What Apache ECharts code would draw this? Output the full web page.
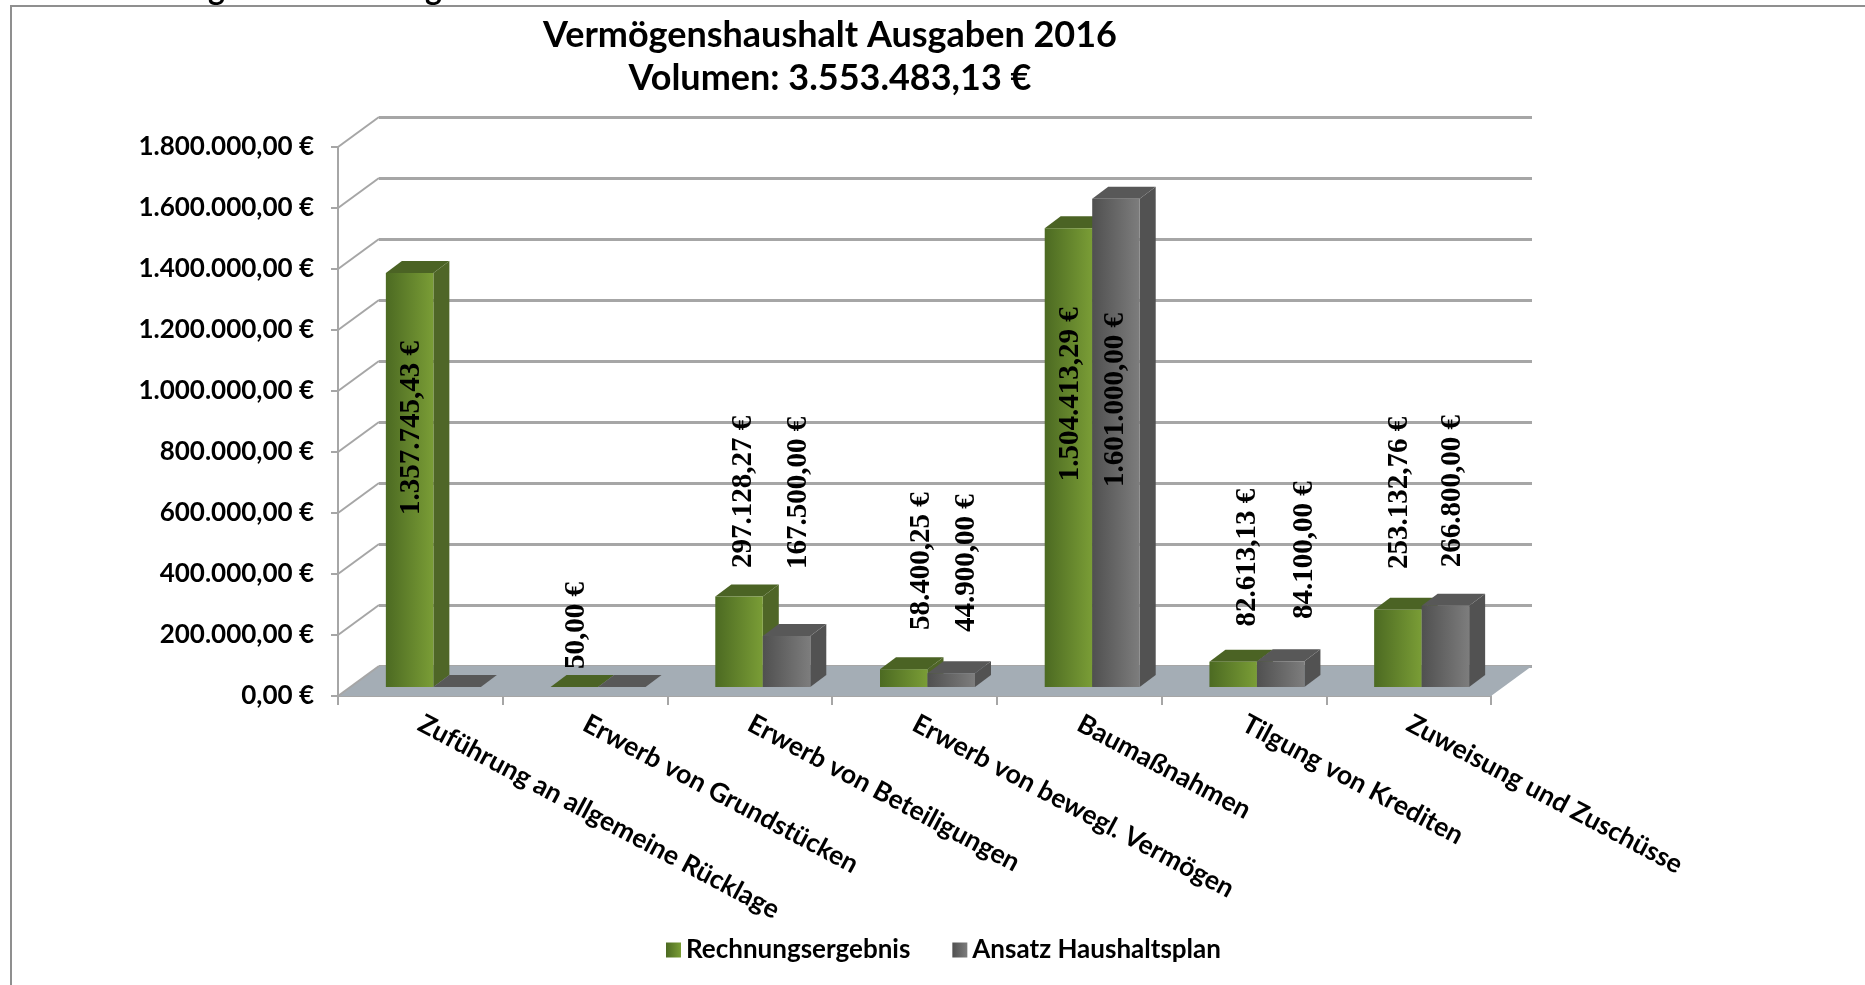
<!DOCTYPE html>
<html>
<head>
<meta charset="utf-8">
<title>Vermögenshaushalt Ausgaben 2016</title>
<script src="https://cdn.jsdelivr.net/npm/echarts@6/dist/echarts.min.js"></script>
<style>
  html, body { margin: 0; padding: 0; background: #fff; overflow: hidden; }
  #frame { position: absolute; left: 10px; top: 5px; width: 1855px; height: 980px; border-left: 2px solid #8f8f8f; border-top: 2px solid #8f8f8f; box-sizing: border-box; }
  #chart { position: absolute; left: 0; top: 0; width: 1865px; height: 985px; }
</style>
</head>
<body>
<div id="frame"></div>
<div id="chart"></div>
<script>
const categories = [
  'Zuführung an allgemeine Rücklage',
  'Erwerb von Grundstücken',
  'Erwerb von Beteiligungen',
  'Erwerb von bewegl. Vermögen',
  'Baumaßnahmen',
  'Tilgung von Krediten',
  'Zuweisung und Zuschüsse',
];
const rechnungsergebnis = [1357745.43, 50, 297128.27, 58400.25, 1504413.29, 82613.13, 253132.76];
const ansatz = [0, 0, 167500, 44900, 1601000, 84100, 266800];
const rechnungLabels = ['1.357.745,43 €', '50,00 €', '297.128,27 €', '58.400,25 €', '1.504.413,29 €', '82.613,13 €', '253.132,76 €'];
const ansatzLabels = ['', '', '167.500,00 €', '44.900,00 €', '1.601.000,00 €', '84.100,00 €', '266.800,00 €'];
// hand placed labels in the original: axis value where each label starts
const rechnungLabelAt = [564000, 59000, 390000, 187000, 675000, 198000, 387000];
const ansatzLabelAt = [0, 0, 387000, 180000, 656000, 223000, 393000];
const rechnungLabelNudge = [2, 2, 4, 18, 2, 14, 2];
const ansatzLabelNudge = [0, 0, 12, 15, 0, 24, 7];
const tickValues = [0, 200000, 400000, 600000, 800000, 1000000, 1200000, 1400000, 1600000, 1800000];

const GRID_LEFT = 338, GRID_TOP = 147, GRID_W = 1153, GRID_H = 549;
const WALL_DX = 41, WALL_DY = -30;
const BAR_W = 47.5, BAR_SHIFT = 13, BAR_LIFT = 9, SIDE_DX = 16, SIDE_DY = -12;
const LINE = '#a6a6a6';
const LABEL_FONT = 'bold 29px "Liberation Serif"';
const AXIS_FONT = 'Lato';

function hGrad(a, b) {
  return new echarts.graphic.LinearGradient(0, 0, 1, 0, [{ offset: 0, color: a }, { offset: 1, color: b }]);
}
const green = { front: hGrad('#4c6a22', '#7a9d36'), side: '#4f6627', top: '#4b6324' };
const gray = { front: hGrad('#505050', '#7d7d7d'), side: '#525252', top: '#585858' };

function barSeries(name, values, colors, barOffset) {
  return {
    name: name,
    type: 'custom',
    xAxisIndex: 0,
    yAxisIndex: 0,
    z: 5,
    itemStyle: { color: colors.front },
    data: values.map((v, i) => [i, v]),
    encode: { x: 0, y: 1 },
    renderItem: function (params, api) {
      const top = api.coord([api.value(0), api.value(1)]);
      const base = api.coord([api.value(0), 0]);
      const x0 = top[0] + BAR_SHIFT + barOffset;
      const x1 = x0 + BAR_W;
      const y0 = top[1] - BAR_LIFT;
      const y1 = base[1] - BAR_LIFT;
      return {
        type: 'group',
        children: [
          { type: 'polygon', shape: { points: [[x1, y0], [x1 + SIDE_DX, y0 + SIDE_DY], [x1 + SIDE_DX, y1 + SIDE_DY], [x1, y1]] }, style: { fill: colors.side } },
          { type: 'polygon', shape: { points: [[x0, y0], [x0 + SIDE_DX, y0 + SIDE_DY], [x1 + SIDE_DX, y0 + SIDE_DY], [x1, y0]] }, style: { fill: colors.top } },
          { type: 'rect', shape: { x: x0, y: y0, width: BAR_W, height: y1 - y0 }, style: { fill: colors.front } },
        ],
      };
    },
  };
}

function labelSeries(texts, anchors, nudges, barOffset) {
  return {
    type: 'custom',
    xAxisIndex: 0,
    yAxisIndex: 0,
    z: 10,
    silent: true,
    data: texts.map((t, i) => [i, anchors[i]]),
    encode: { x: 0, y: 1 },
    renderItem: function (params, api) {
      const i = params.dataIndex;
      const p = api.coord([api.value(0), api.value(1)]);
      return {
        type: 'text',
        x: p[0] + BAR_SHIFT + barOffset + BAR_W / 2 + nudges[i],
        y: p[1] - BAR_LIFT,
        rotation: Math.PI / 2,
        style: { text: texts[i], font: LABEL_FONT, fill: '#000', align: 'left', verticalAlign: 'middle' },
      };
    },
  };
}

const chart = echarts.init(document.getElementById('chart'), null, { renderer: 'canvas' });

chart.setOption({
  animation: false,
  backgroundColor: 'transparent',
  title: {
    text: 'Vermögenshaushalt Ausgaben 2016\nVolumen: 3.553.483,13 €',
    left: 825,
    top: 9,
    textAlign: 'center',
    textStyle: { fontFamily: AXIS_FONT, fontWeight: 'bold', fontSize: 36, lineHeight: 43, color: '#000' },
  },
  legend: {
    left: 661,
    top: 932,
    itemWidth: 15,
    itemHeight: 15,
    itemGap: 42,
    data: [
      { name: 'Rechnungsergebnis', icon: 'rect' },
      { name: 'Ansatz Haushaltsplan', icon: 'rect' },
    ],
    textStyle: { fontFamily: AXIS_FONT, fontWeight: 'bold', fontSize: 26, color: '#000' },
  },
  // tips of the cropped page heading above the frame
  graphic: [
    { type: 'text', left: 208, top: -26, silent: true, style: { text: 'g', font: 'bold 32px Lato', fill: '#000' } },
    { type: 'text', left: 425, top: -26, silent: true, style: { text: 'g', font: 'bold 32px Lato', fill: '#000' } },
  ],
  grid: [
    { left: GRID_LEFT, top: GRID_TOP, width: GRID_W, height: GRID_H },
    { left: GRID_LEFT + WALL_DX, top: GRID_TOP + WALL_DY, width: GRID_W, height: GRID_H },
  ],
  xAxis: [
    {
      type: 'category',
      gridIndex: 0,
      data: categories,
      axisLine: { lineStyle: { color: LINE, width: 2 } },
      axisTick: { show: true, length: 9, lineStyle: { color: LINE, width: 2 } },
      axisLabel: { interval: 0, rotate: -28, margin: 26, fontFamily: AXIS_FONT, fontWeight: 'bold', fontSize: 26.5, color: '#000' },
    },
    { type: 'category', gridIndex: 1, data: categories, show: false },
  ],
  yAxis: [
    {
      type: 'value',
      gridIndex: 0,
      min: 0,
      max: 1800000,
      interval: 200000,
      axisLine: { show: true, lineStyle: { color: LINE, width: 2 } },
      axisTick: { show: true, length: 7, lineStyle: { color: LINE, width: 2 } },
      splitLine: { show: false },
      axisLabel: {
        margin: 24,
        fontFamily: AXIS_FONT,
        fontWeight: 'bold',
        fontSize: 26,
        color: '#000',
        formatter: (v) => (v === 0 ? '0,00 €' : v.toLocaleString('de-DE') + ',00 €'),
      },
    },
    {
      type: 'value',
      gridIndex: 1,
      min: 0,
      max: 1800000,
      interval: 200000,
      axisLine: { show: false },
      axisTick: { show: false },
      axisLabel: { show: false },
      splitLine: { show: true, lineStyle: { color: LINE, width: 3 } },
    },
  ],
  series: [
    {
      // floor plus the slanted lines joining front axis and back wall
      type: 'custom',
      xAxisIndex: 0,
      yAxisIndex: 0,
      z: 1,
      silent: true,
      data: tickValues.map((v) => [0, v]),
      encode: { x: 0, y: 1 },
      renderItem: function (params, api) {
        const y = api.coord([0, api.value(1)])[1];
        const x = params.coordSys.x;
        const w = params.coordSys.width;
        const children = [{
          type: 'line',
          shape: { x1: x, y1: y, x2: x + WALL_DX, y2: y + WALL_DY },
          style: { stroke: LINE, lineWidth: 2 },
        }];
        if (api.value(1) === 0) {
          children.unshift({
            type: 'polygon',
            shape: { points: [[x, y], [x + WALL_DX, y + WALL_DY], [x + w + WALL_DX, y + WALL_DY], [x + w, y]] },
            style: { fill: '#a4adb5' },
          });
        }
        return { type: 'group', children: children };
      },
    },
    barSeries('Rechnungsergebnis', rechnungsergebnis, green, -BAR_W),
    barSeries('Ansatz Haushaltsplan', ansatz, gray, 0),
    labelSeries(rechnungLabels, rechnungLabelAt, rechnungLabelNudge, -BAR_W),
    labelSeries(ansatzLabels, ansatzLabelAt, ansatzLabelNudge, 0),
  ],
});
</script>
</body>
</html>
